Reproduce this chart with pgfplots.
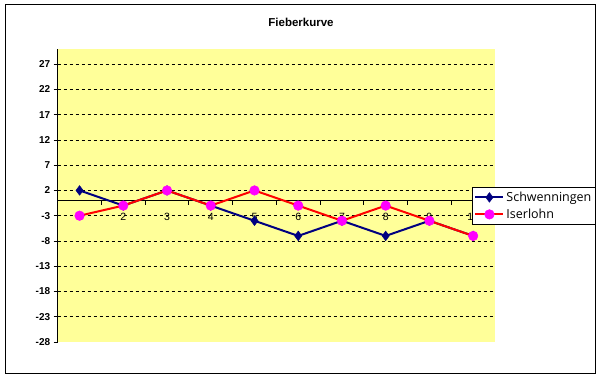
\documentclass[border=0pt]{standalone}
\usepackage{pgfplots}
\pgfplotsset{compat=1.18}
\usepackage{fontspec}
\setmainfont{Liberation Sans}
\newfontfamily\legfont{Open Sans}
\definecolor{plotbg}{HTML}{FFFF99}
\definecolor{navyc}{HTML}{000080}
\definecolor{magc}{HTML}{FF00FF}
\definecolor{redc}{HTML}{FF0000}
\begin{document}
\begin{tikzpicture}[x=1pt,y=1pt]
\useasboundingbox (0,0) rectangle (601,379);
\fill[white] (0,0) rectangle (601,379);
\draw[black, line width=1pt] (5.5,5.5) rectangle (595,374);
\node[font=\fontsize{11.5}{13}\selectfont\bfseries] at (301,357) {Fieberkurve};
\begin{axis}[
  at={(57.7pt,37pt)}, anchor=south west,
  scale only axis, width=437.3pt, height=293pt,
  xmin=0.5, xmax=10.5, ymin=-28, ymax=30,
  axis background/.style={fill=plotbg},
  axis y line=left, axis x line=middle,
  x axis line style={-, black, line width=0.8pt},
  y axis line style={-, black, line width=0.8pt},
  xtick={1,...,10},
  xticklabels={1,2,3,4,5,6,7,8,9,10},
  minor xtick={1.5,2.5,...,9.5},
  x tick style={draw=none},
  minor x tick style={draw=black, line width=0.8pt},
  minor tick length=4pt,
  ytick={-23,-18,...,27},
  extra y ticks={-28},
  extra y tick style={grid=none},
  ymajorgrids,
  major grid style={black, dashed, dash pattern=on 3pt off 3pt, line width=0.7pt},
  y tick style={black, line width=0.8pt},
  major tick length=4pt,
  tick align=outside,
  /pgf/number format/assume math mode=true,
  yticklabel style={font=\fontsize{10}{11}\selectfont\bfseries, xshift=0pt},
  xticklabel style={font=\fontsize{10.5}{11}\selectfont, yshift=-5pt},
  clip=false,
  legend style={at={(0.9475,0.529)}, anchor=north west, draw=black, line width=0.8pt, fill=white,
    font=\legfont\fontsize{12.5}{14}\selectfont, inner xsep=2pt, inner ysep=2.5pt,
    row sep=2pt, legend cell align=left},
  legend image code/.code={\draw[mark repeat=2,mark phase=2] plot coordinates {(0pt,0pt)(14pt,0pt)(28pt,0pt)};},
]
\addplot[color=navyc, line width=2pt, mark=diamond*, mark size=4.8pt, mark options={fill=navyc, line width=0.5pt}]
  coordinates {(1,2)(2,-1)(3,2)(4,-1)(5,-4)(6,-7)(7,-4)(8,-7)(9,-4)(10,-7)};
\addlegendentry{Schwenningen}
\addplot[color=redc, line width=2pt, mark=*, mark size=4.8pt, mark options={draw=magc, fill=magc, line width=0.5pt}]
  coordinates {(1,-3)(2,-1)(3,2)(4,-1)(5,2)(6,-1)(7,-4)(8,-1)(9,-4)(10,-7)};
\addlegendentry{Iserlohn}
\end{axis}
\end{tikzpicture}
\end{document}
